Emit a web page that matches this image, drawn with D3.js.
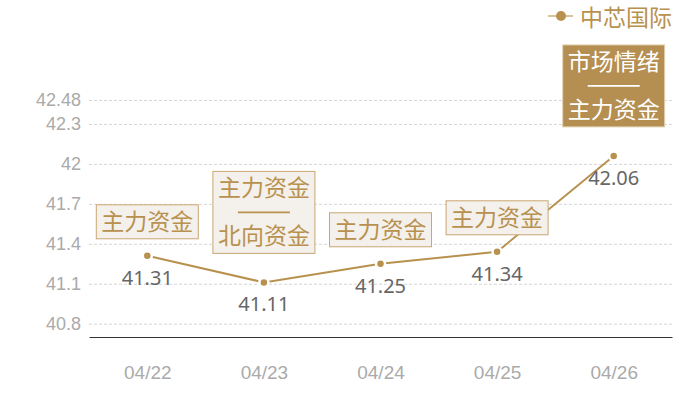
<!DOCTYPE html>
<html>
<head>
<meta charset="utf-8">
<script src="https://cdn.jsdelivr.net/npm/d3@7"></script>
<style>
    body { margin: 0; background: #fff; }
    svg { display: block; font-family: "Noto Sans", "Noto Sans CJK SC", sans-serif; }
</style>
</head>
<body>
<script>
(function(){

    //chart data
    var seriesName = "中芯国际";
    var dates = ["04/22", "04/23", "04/24", "04/25", "04/26"];
    var prices = [41.31, 41.11, 41.25, 41.34, 42.06];
    var yTicks = [40.8, 41.1, 41.4, 41.7, 42, 42.3, 42.48];
    //annotation above each point, one entry per line ("——" is the separator rule)
    var notes = [
        ["主力资金"],
        ["主力资金", "——", "北向资金"],
        ["主力资金"],
        ["主力资金"],
        ["市场情绪", "——", "主力资金"]
    ];
    var highlighted = [false, false, false, false, true];

    var width = 700,
        height = 400,
        left = 89,
        right = 672,
        top = 100,
        bottom = 337;

    var gold = "#b8914f";

    var svg = d3.select("body")
        .append("svg")
        .attr("width", width)
        .attr("height", height);

    var x = d3.scalePoint()
        .domain(dates)
        .range([left, right])
        .padding(0.5);

    var y = d3.scaleLinear()
        .domain([40.7, 42.48])
        .range([bottom, top]);

    //y axis with dashed grid lines
    var yAxis = svg.append("g")
        .attr("transform", "translate(" + left + ",0)")
        .call(d3.axisLeft(y)
            .tickValues(yTicks)
            .tickSize(-(right - left))
            .tickPadding(8)
            .tickFormat(function(d){ return d; }));
    yAxis.select(".domain").remove();
    yAxis.selectAll(".tick line")
        .attr("stroke", "#d6d6d6")
        .attr("stroke-dasharray", "3,2");
    yAxis.selectAll(".tick text")
        .attr("fill", "#aaa")
        .style("font-size", "18px");

    //x axis
    var xAxis = svg.append("g")
        .attr("transform", "translate(0," + bottom + ")")
        .call(d3.axisBottom(x)
            .tickSize(0)
            .tickSizeOuter(0)
            .tickPadding(29));
    xAxis.select(".domain")
        .attr("stroke", "#333")
        .attr("stroke-width", 1.2);
    xAxis.selectAll(".tick text")
        .attr("fill", "#aaa")
        .style("font-size", "19px");

    var points = dates.map(function(d, i){
        return {date: d, value: prices[i], note: notes[i], hi: highlighted[i]};
    });

    //price line
    var line = d3.line()
        .x(function(d){ return x(d.date); })
        .y(function(d){ return y(d.value); });

    svg.append("path")
        .datum(points)
        .attr("fill", "none")
        .attr("stroke", gold)
        .attr("stroke-width", 2)
        .attr("d", line);

    svg.selectAll(".marker")
        .data(points)
        .enter()
        .append("circle")
        .attr("class", "marker")
        .attr("cx", function(d){ return x(d.date); })
        .attr("cy", function(d){ return y(d.value); })
        .attr("r", 4.5)
        .attr("fill", gold)
        .attr("stroke", "#fff")
        .attr("stroke-width", 2.5);

    //value labels under the points
    svg.selectAll(".value")
        .data(points)
        .enter()
        .append("text")
        .attr("class", "value")
        .attr("x", function(d){ return x(d.date); })
        .attr("y", function(d){ return y(d.value) + 29; })
        .attr("text-anchor", "middle")
        .attr("fill", "#666")
        .style("font-size", "20px")
        .text(function(d){ return d.value.toFixed(2); });

    //annotation boxes
    var lineH = 24;
    points.forEach(function(d){
        var n = d.note.length,
            boxH = n * lineH + 10,
            gap = 17 + (n - 1) * 6,
            cx = x(d.date),
            boxTop = y(d.value) - gap - boxH,
            ink = d.hi ? "#fff" : gold;

        var g = svg.append("g");
        var rect = g.append("rect")
            .attr("fill", d.hi ? "#b58e51" : "#f4f0eb")
            .attr("stroke", d.hi ? "#e3d3b3" : "#c9a774")
            .attr("stroke-width", 1);

        var maxW = 0;
        d.note.forEach(function(t, i){
            var cy = boxTop + 5 + lineH / 2 + i * lineH;
            if (t === "——") {
                //separator drawn as a rule
                g.append("line")
                    .attr("x1", cx - 26).attr("x2", cx + 26)
                    .attr("y1", cy).attr("y2", cy)
                    .attr("stroke", ink)
                    .attr("stroke-width", 1.6);
                return;
            }
            var txt = g.append("text")
                .attr("x", cx)
                .attr("y", cy + 8)
                .attr("text-anchor", "middle")
                .attr("fill", ink)
                .style("font-size", "23px")
                .style("font-family", "'Noto Sans CJK SC', sans-serif")
                .text(t);
            maxW = Math.max(maxW, txt.node().getComputedTextLength());
        });

        var boxW = maxW + 10;
        rect.attr("x", cx - boxW / 2)
            .attr("y", boxTop)
            .attr("width", boxW)
            .attr("height", boxH);
    });

    //legend
    var legend = svg.append("g");
    legend.append("line")
        .attr("x1", 548).attr("x2", 573)
        .attr("y1", 16).attr("y2", 16)
        .attr("stroke", "#d8c29c")
        .attr("stroke-width", 2);
    legend.append("circle")
        .attr("cx", 561).attr("cy", 16)
        .attr("r", 5)
        .attr("fill", gold);
    legend.append("text")
        .attr("x", 580)
        .attr("y", 16)
        .attr("dominant-baseline", "central")
        .attr("fill", gold)
        .style("font-size", "23px")
        .style("font-family", "'Noto Sans CJK SC', sans-serif")
        .text(seriesName);

})();
</script>
</body>
</html>
